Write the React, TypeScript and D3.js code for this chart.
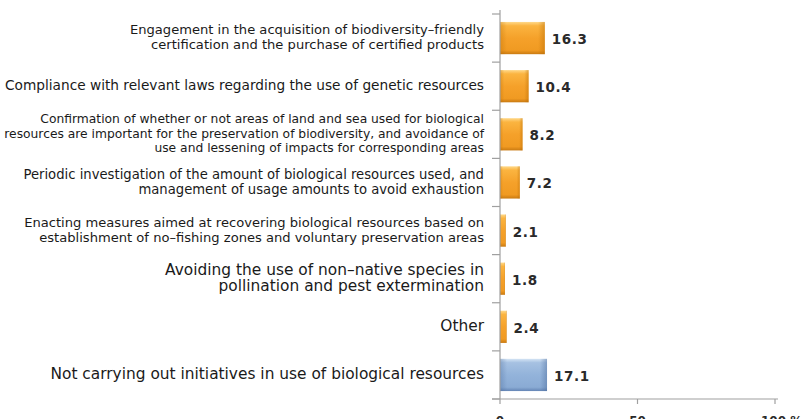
import React, { useEffect, useRef } from "react";
import * as d3 from "d3";

const categories: string[][] = [
  ["Engagement in the acquisition of biodiversity–friendly", "certification and the purchase of certified products"],
  ["Compliance with relevant laws regarding the use of genetic resources"],
  [
    "Confirmation of whether or not areas of land and sea used for biological",
    "resources are important for the preservation of biodiversity, and avoidance of",
    "use and lessening of impacts for corresponding areas",
  ],
  ["Periodic investigation of the amount of biological resources used, and", "management of usage amounts to avoid exhaustion"],
  ["Enacting measures aimed at recovering biological resources based on", "establishment of no–fishing zones and voluntary preservation areas"],
  ["Avoiding the use of non–native species in", "pollination and pest extermination"],
  ["Other"],
  ["Not carrying out initiatives in use of biological resources"],
];
const values: number[] = [16.3, 10.4, 8.2, 7.2, 2.1, 1.8, 2.4, 17.1];
const barKinds: string[] = ["orange", "orange", "orange", "orange", "orange", "orange", "orange", "blue"];
const xTicks: number[] = [0, 50, 100];

const labelFontSize = [13.1, 13.7, 12.3, 13.2, 13.1, 15.4, 15.4, 15.4];
const labelLineHeight = [15, 15, 14.5, 15, 15, 16.5, 16.5, 16.5];

export default function App() {
  const ref = useRef<SVGSVGElement>(null);
  useEffect(() => {
    const svg = d3.select(ref.current!);
    svg.selectAll("*").remove();
    const x0 = 500, x1 = 775, yTop = 14, yBot = 399;
    const x = d3.scaleLinear().domain([0, 100]).range([x0, x1]);
    const idx = categories.map((_, i) => String(i));
    const y = d3.scaleBand<string>().domain(idx).range([yTop, yBot]).padding(0);
    const bw = y.bandwidth();
    const barH = bw * 0.67;

    const defs = svg.append("defs");
    const mk = (id: string, stops: [number, string][]) => {
      const g = defs.append("linearGradient").attr("id", id).attr("x1", 0).attr("y1", 0).attr("x2", 0).attr("y2", 1);
      stops.forEach(([o, c]) => g.append("stop").attr("offset", o).attr("stop-color", c));
    };
    mk("gOrange", [
      [0, "#ffd98a"],
      [0.12, "#fbb440"],
      [0.5, "#f5a12a"],
      [0.88, "#f09a22"],
      [1, "#c97a12"],
    ]);
    mk("gBlue", [
      [0, "#d4e4f4"],
      [0.12, "#a6c1e2"],
      [0.5, "#93b3da"],
      [0.88, "#8aabd4"],
      [1, "#6485b5"],
    ]);
    const mkH = (id: string, edge: string) => {
      const g = defs.append("linearGradient").attr("id", id).attr("x1", 0).attr("y1", 0).attr("x2", 1).attr("y2", 0);
      g.append("stop").attr("offset", 0).attr("stop-color", edge).attr("stop-opacity", 0.35);
      g.append("stop").attr("offset", 0.15).attr("stop-color", edge).attr("stop-opacity", 0);
      g.append("stop").attr("offset", 0.85).attr("stop-color", edge).attr("stop-opacity", 0);
      g.append("stop").attr("offset", 1).attr("stop-color", edge).attr("stop-opacity", 0.45);
    };
    mkH("hOrange", "#b86a00");
    mkH("hBlue", "#4a6a9a");

    const bars = svg.append("g");
    values.forEach((v, i) => {
      const by = y(String(i))! + (bw - barH) / 2;
      const w = x(v) - x(0);
      const kind = barKinds[i];
      bars.append("rect").attr("x", x(0)).attr("y", by).attr("width", w).attr("height", barH)
        .attr("fill", kind === "blue" ? "url(#gBlue)" : "url(#gOrange)");
      bars.append("rect").attr("x", x(0)).attr("y", by).attr("width", w).attr("height", barH)
        .attr("fill", kind === "blue" ? "url(#hBlue)" : "url(#hOrange)");
      bars.append("text")
        .attr("x", x(v) + 7)
        .attr("y", by + barH / 2 + 2)
        .attr("dominant-baseline", "middle")
        .attr("font-family", "DejaVu Sans")
        .attr("font-weight", "bold")
        .attr("font-size", 13.5)
        .attr("letter-spacing", 0.6)
        .attr("fill", "#2a2a2a")
        .text(v.toFixed(1));
    });

    const axisColor = "#a0a0a0";
    svg.append("line").attr("x1", x0).attr("x2", x0).attr("y1", yTop - 4).attr("y2", yBot)
      .attr("stroke", axisColor).attr("stroke-width", 1.2);
    const seps = idx.map((k) => y(k)!).concat([yBot]);
    seps.forEach((s) => {
      svg.append("line").attr("x1", x0 - 8).attr("x2", x0).attr("y1", s).attr("y2", s)
        .attr("stroke", axisColor).attr("stroke-width", 1.2);
    });

    svg.append("line").attr("x1", x0 - 8).attr("x2", x1 + 3).attr("y1", yBot).attr("y2", yBot)
      .attr("stroke", axisColor).attr("stroke-width", 1.2);
    xTicks.forEach((t) => {
      svg.append("line").attr("x1", x(t)).attr("x2", x(t)).attr("y1", yBot).attr("y2", yBot + 5)
        .attr("stroke", axisColor).attr("stroke-width", 1.2);
      const isLast = t === xTicks[xTicks.length - 1];
      svg.append("text")
        .attr("x", isLast ? x(t) - 14 : x(t))
        .attr("y", yBot + 26)
        .attr("text-anchor", isLast ? "start" : "middle")
        .attr("font-family", "DejaVu Sans")
        .attr("font-weight", "bold")
        .attr("font-size", 12)
        .attr("fill", "#2a2a2a")
        .text(isLast ? `${t} %` : String(t));
    });

    categories.forEach((lines, i) => {
      const fs = labelFontSize[i];
      const lh = labelLineHeight[i];
      const cy = y(String(i))! + bw / 2;
      const t = svg.append("text")
        .attr("text-anchor", "end")
        .attr("font-family", "DejaVu Sans")
        .attr("font-size", fs)
        .attr("fill", "#1a1a1a");
      lines.forEach((ln, j) => {
        t.append("tspan")
          .attr("x", 484)
          .attr("y", cy + (j - (lines.length - 1) / 2) * lh)
          .attr("dominant-baseline", "middle")
          .text(ln);
      });
    });
  }, []);
  return (
    <svg ref={ref} width={806} height={419} style={{ position: "absolute", left: 0, top: 0, background: "#fff" }} />
  );
}
